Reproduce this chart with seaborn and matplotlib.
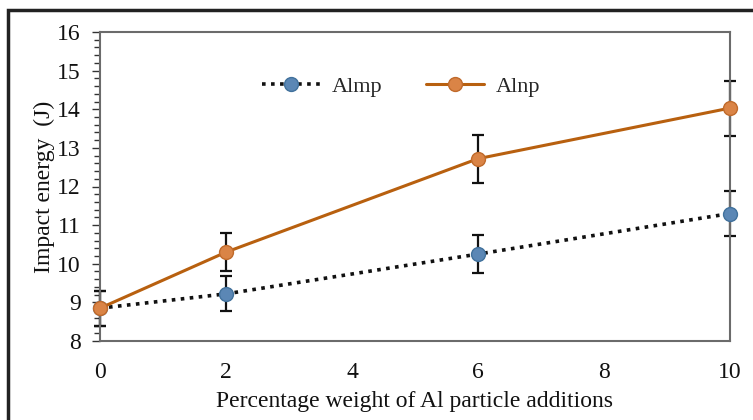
import matplotlib
matplotlib.use("Agg")
import matplotlib.pyplot as plt
import seaborn as sns
import pandas as pd
from matplotlib.ticker import MultipleLocator
from matplotlib.patches import Rectangle
from matplotlib.lines import Line2D

# Data
x_vals = [0, 2, 6, 10]
almp = [8.85, 9.22, 10.25, 11.30]
almp_err = [0.45, 0.45, 0.50, 0.58]
alnp = [8.85, 10.30, 12.72, 14.03]
alnp_err = [0.45, 0.50, 0.62, 0.71]
series_names = ["Almp", "Alnp"]

sns.set_theme(style="white")
plt.rcParams['font.family'] = ['Liberation Serif', 'DejaVu Serif']

df = pd.DataFrame({
    "x": x_vals * 2,
    "y": almp + alnp,
    "series": [series_names[0]] * 4 + [series_names[1]] * 4,
})

fig = plt.figure(figsize=(7.53, 4.2), dpi=100)
ax = fig.add_axes([100/753, 1-341/420, (730-100)/753, (341-32)/420])

blue_line = "#111111"
blue_face = "#5B87B5"
blue_edge = "#41719C"
orange_line = "#B8600F"
orange_face = "#DA8446"
orange_edge = "#C06A2B"

# error bars first
for yv, ev in [(almp, almp_err), (alnp, alnp_err)]:
    _, caps, bars = ax.errorbar(x_vals, yv, yerr=ev, fmt="none", ecolor="#111111",
                                elinewidth=1.6, capsize=4, capthick=1.6, zorder=2)
    for c in caps:
        c.set_clip_on(False)
    for b in bars:
        b.set_clip_on(False)

sns.lineplot(data=df[df.series == "Almp"], x="x", y="y", ax=ax, color=blue_line,
             linestyle=(0, (1, 1.5)), linewidth=2.6, marker="o", markersize=10,
             markerfacecolor=blue_face, markeredgecolor=blue_edge, markeredgewidth=1,
             legend=False, zorder=3, clip_on=False)
sns.lineplot(data=df[df.series == "Alnp"], x="x", y="y", ax=ax, color=orange_line,
             linewidth=2.2, marker="o", markersize=10,
             markerfacecolor=orange_face, markeredgecolor=orange_edge, markeredgewidth=1,
             legend=False, zorder=4, clip_on=False)

ax.set_xlim(0, 10)
ax.set_ylim(8, 16)
ax.set_xticks([0, 2, 4, 6, 8, 10])
ax.yaxis.set_major_locator(MultipleLocator(1))
ax.yaxis.set_minor_locator(MultipleLocator(0.2))
ax.tick_params(axis="y", which="major", direction="out", length=6, width=1,
               color="#333333", labelsize=17, pad=8, left=True)
ax.tick_params(axis="y", which="minor", direction="out", length=4, width=1,
               color="#333333", left=True)
ax.tick_params(axis="x", which="major", length=0, labelsize=17, pad=15)
for s in ax.spines.values():
    s.set_color("#6b6b6b")
    s.set_linewidth(1.5)

ax.set_xlabel("Percentage weight of Al particle additions", fontsize=17, labelpad=6, color="#111111")
ax.set_ylabel("Impact energy  (J)", fontsize=17, labelpad=1, color="#111111")
for lbl in ax.get_xticklabels() + ax.get_yticklabels():
    lbl.set_color("#111111")

handles = [
    Line2D([], [], color=blue_line, linestyle=(0, (1, 1.5)), linewidth=2.6, marker="o",
           markersize=10, markerfacecolor=blue_face, markeredgecolor=blue_edge),
    Line2D([], [], color=orange_line, linewidth=2.2, marker="o",
           markersize=10, markerfacecolor=orange_face, markeredgecolor=orange_edge),
]
ax.legend(handles, series_names, loc="center", bbox_to_anchor=(0.478, 0.823),
          ncol=2, frameon=False, fontsize=16, handlelength=2.6,
          columnspacing=2.0, handletextpad=0.5)

fig.patches.append(Rectangle((8/753, -0.2), 1.2, 1.2 - 10/420,
                             transform=fig.transFigure, fill=False,
                             edgecolor="#222222", linewidth=2.5))

fig.savefig("out.png", dpi=100)
